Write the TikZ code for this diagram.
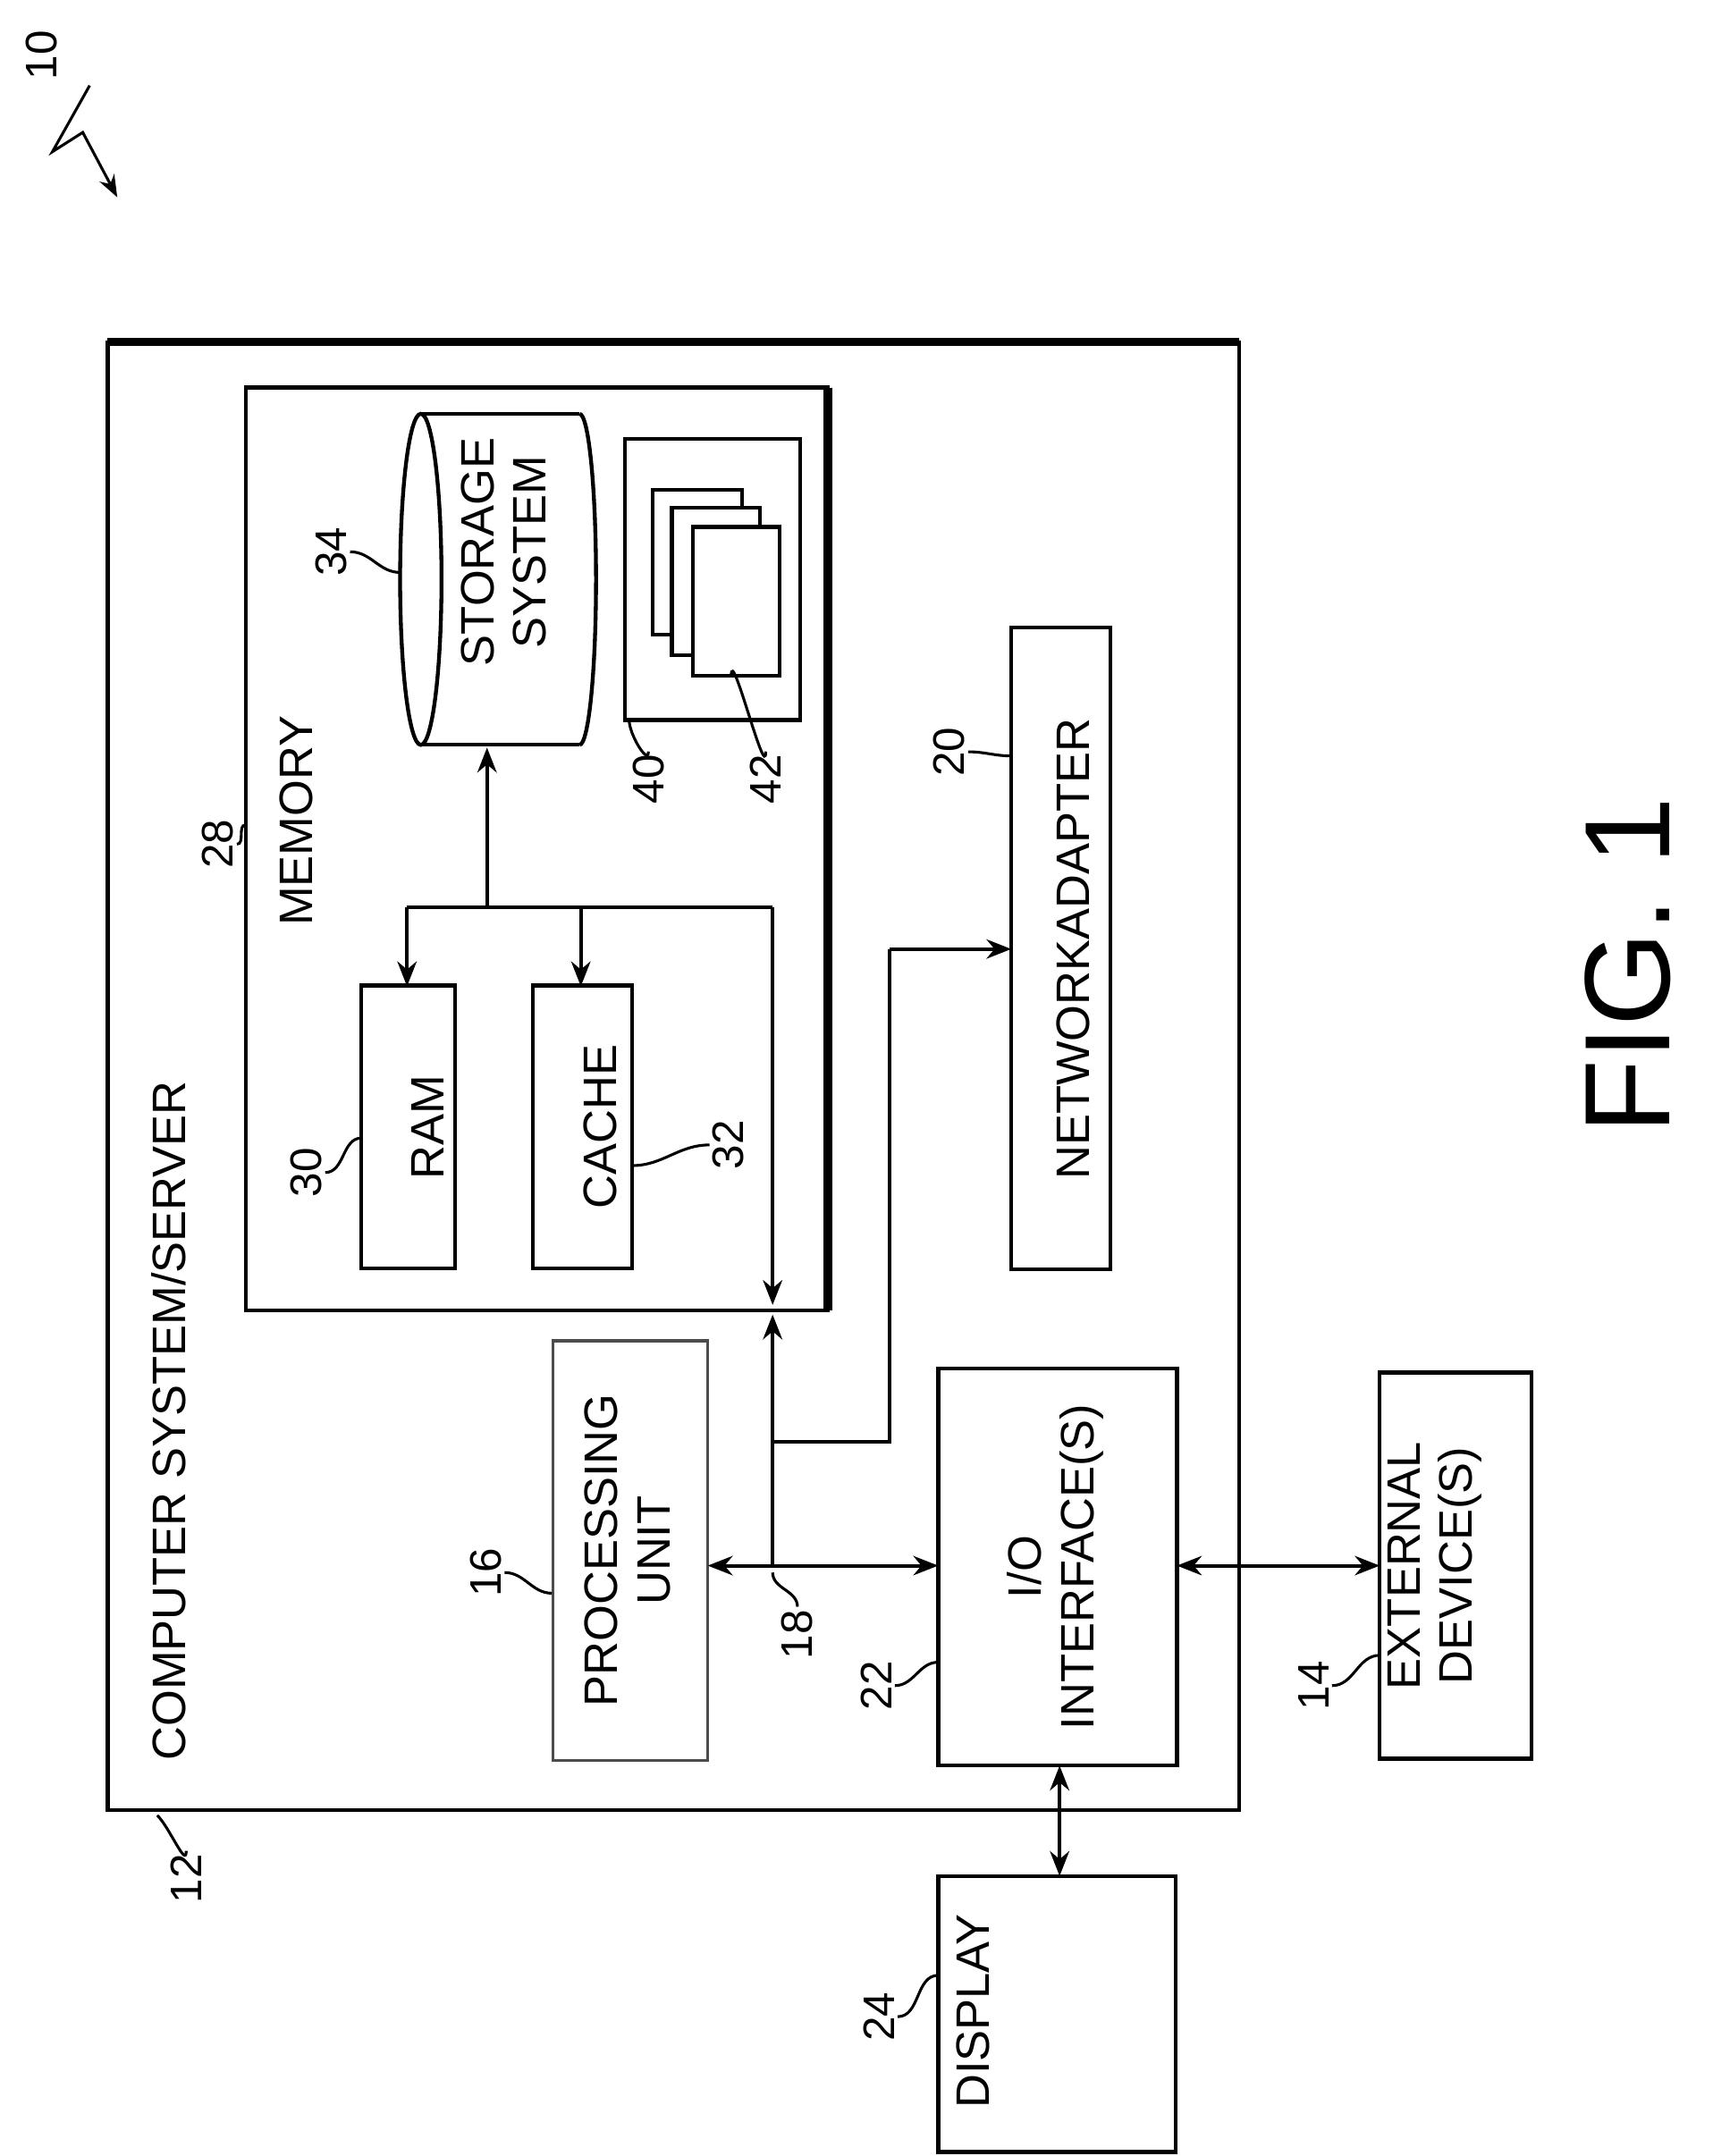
\documentclass[tikz,border=0pt]{standalone}
\usepackage{fontspec}
\setmainfont{Liberation Sans}
\usetikzlibrary{arrows.meta}
\begin{document}
\begin{tikzpicture}[x=0.5pt,y=-0.5pt,
  box/.style={draw,line width=1.4pt},
  txt/.style={rotate=90,font=\fontsize{17}{19}\selectfont,align=center},
  lab/.style={rotate=90,font=\fontsize{16}{18}\selectfont,inner sep=1pt},
  ld/.style={line width=1pt},
  ar/.style={line width=1.3pt,-{Stealth[length=9pt,width=7pt]}},
  dar/.style={line width=1.3pt,{Stealth[length=9pt,width=7pt]}-{Stealth[length=9pt,width=7pt]}}]
\useasboundingbox (0,0) rectangle (1241,1563);
% ref 10
\node[lab] (l10) at (30,40) {10};
\coordinate (s1) at (65,62);
\coordinate (s2) at (38,110);
\coordinate (s3) at (60,96);
\coordinate (s4) at (85,143);
\draw[ld,-{Stealth[length=8pt]}] (s1)--(s2)--(s3)--(s4);
% outer box
\draw[box] (78,248) rectangle (898,1312);
\draw[line width=3pt] (78,248)--(898,248);
\node[txt] (cs) at (122,1030) {COMPUTER SYSTEM/SERVER};
\node[lab] (l12) at (135,1362) {12};
\draw[ld] (l12.east) to[out=-90,in=-45] (114,1316);
% memory
\draw[box] (178,281) rectangle (600,950);
\draw[line width=3pt] (600,281)--(600,950);
\node[txt] (mem) at (215,595) {MEMORY};
\node[lab] (l28) at (158,612) {28};
\draw[ld] (l28.south) to[out=0,in=180] (178,598);
% storage cylinder
\draw[box] (305,300) -- (420,300) (305,540) -- (420,540);
\draw[box] (305,420) ellipse (15 and 120);
\draw[box] (420,300) arc (-90:90:12 and 120);
\node[txt] (st) at (365,400) {STORAGE\\SYSTEM};
\node[lab] (l34) at (240,400) {34};
\draw[ld] (l34.south) to[out=0,in=180] (290,415);
% box 40
\draw[box] (453,318) rectangle (580,522);
\draw[box,fill=white] (473,355) rectangle (538,460);
\draw[box,fill=white] (487,368) rectangle (551,475);
\draw[box,fill=white] (502,382) rectangle (565,490);
\node[lab] (l40) at (470,565) {40};
\draw[ld] (l40.east) to[out=-90,in=-90] (456,522);
\node[lab] (l42) at (555,565) {42};
\draw[ld] (l42.east) to[out=-90,in=90] (530,490);
% RAM, cache
\node[box,minimum width=205*0.5pt,minimum height=68*0.5pt,rotate=90] (ram) at (296,817) {};
\node[txt] at (310,817) {RAM};
\node[box,minimum width=205*0.5pt,minimum height=72*0.5pt,rotate=90] (cache) at (422,817) {};
\node[txt] at (435,817) {CACHE};
\node[lab] (l30) at (222,850) {30};
\draw[ld] (l30.south) to[out=0,in=180] (262,825);
\node[lab] (l32) at (528,830) {32};
\draw[ld] (l32.north) to[out=180,in=0] (458,845);
% memory bus
\coordinate (b1) at (353,658);
\coordinate (b2) at (560,658);
\draw[ar] (b1)--(353,542);
\draw[line width=1.3pt] (295,658)--(b2);
\draw[ar] (295,658)--(295,715);
\draw[ar] (421,658)--(421,715);
\draw[ar] (b2)--(560,946);
\draw[ar] (560,1135)--(560,953);
% processing unit
\draw[line width=1pt,draw=black!70] (401,972) rectangle (513,1276);
\node[txt] (pu) at (455,1124) {PROCESSING\\UNIT};
\node[lab] (l16) at (352,1140) {16};
\draw[ld] (l16.south) to[out=0,in=180] (400,1155);
% I/O
\draw[box] (680,992) rectangle (853,1280);
\node[txt] (io) at (765,1136) {I/O\\INTERFACE(S)};
\node[lab] (l22) at (635,1222) {22};
\draw[ld] (l22.south) to[out=0,in=180] (680,1205);
\draw[dar] (513,1135)--(680,1135);
\node[lab] (l18) at (578,1185) {18};
\draw[ld] (l18.east) to[out=90,in=-90] (560,1140);
% network adapter
\draw[box] (733,455) rectangle (805,920);
\node[txt] (na) at (778,688) {NETWORKADAPTER};
\node[lab] (l20) at (688,545) {20};
\draw[ld] (l20.south) to[out=0,in=180] (733,548);
\draw[line width=1.3pt] (560,1045)--(645,1045)--(645,688);
\draw[ar] (645,688)--(733,688);
% external
\draw[box] (1000,995) rectangle (1110,1275);
\node[txt] (ext) at (1040,1135) {EXTERNAL\\DEVICE(S)};
\node[lab] (l14) at (952,1222) {14};
\draw[ld] (l14.south) to[out=0,in=180] (1000,1200);
\draw[dar] (853,1135)--(1000,1135);
% display
\draw[box] (680,1360) -- (852,1360) -- (852,1560) -- (680,1560) -- cycle;
\node[txt] (disp) at (705,1458) {DISPLAY};
\node[lab] (l24) at (637,1462) {24};
\draw[ld] (l24.south) to[out=0,in=180] (680,1432);
\draw[dar] (768,1280)--(768,1360);
% fig
\node[rotate=90,font=\fontsize{44}{48}\selectfont] (fig) at (1180,700) {FIG. 1};
\end{tikzpicture}
\end{document}
